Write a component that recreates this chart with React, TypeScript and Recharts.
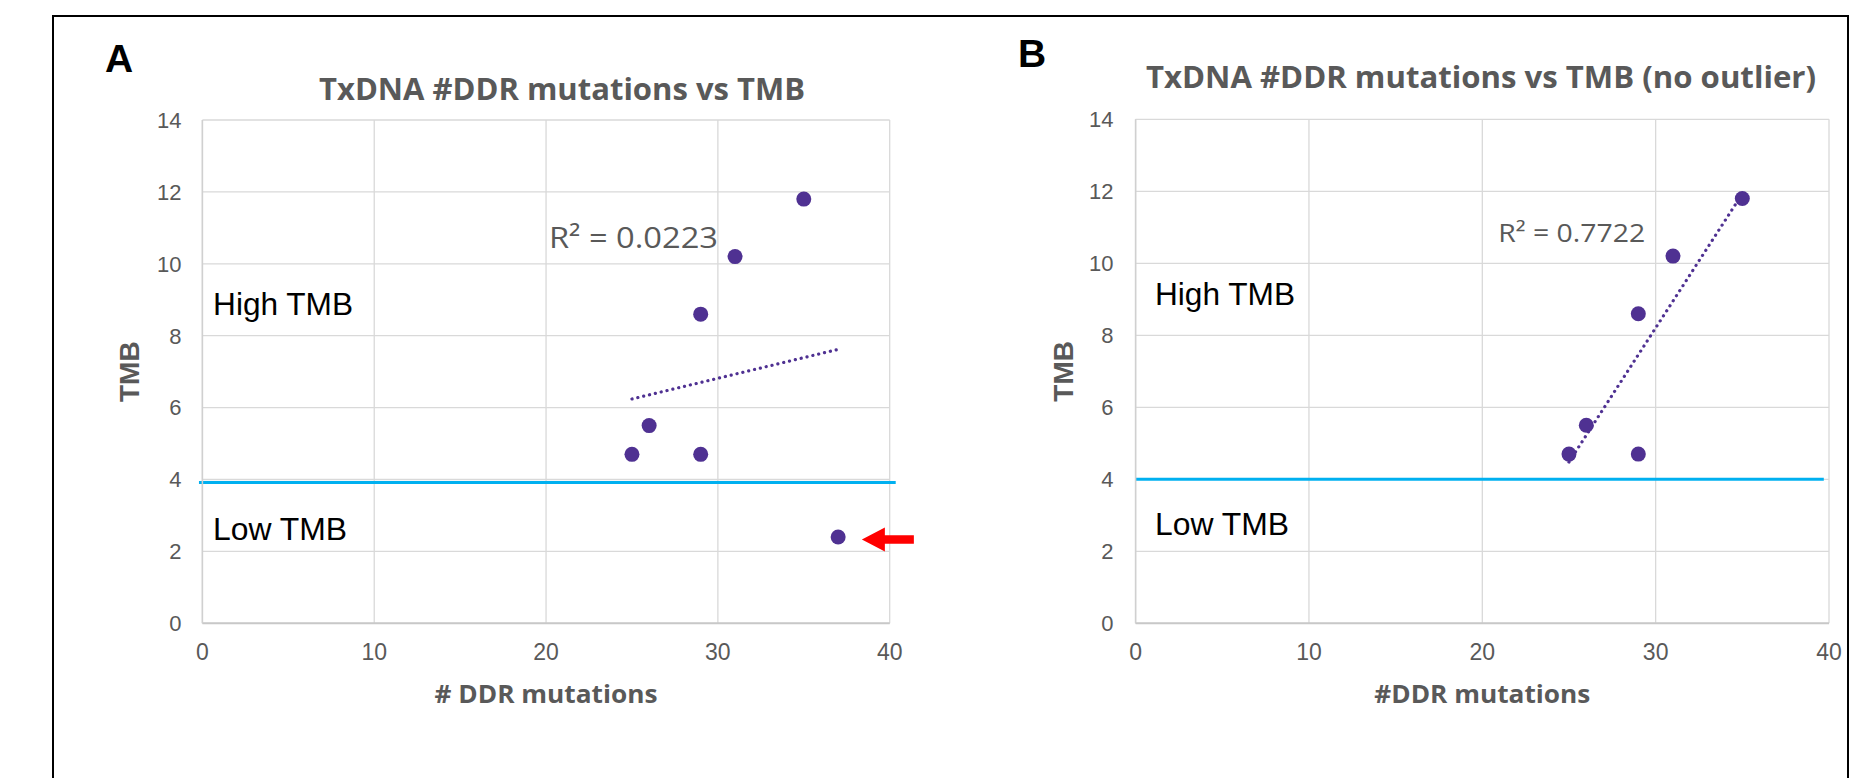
import React from 'react';
import { ScatterChart, Scatter, XAxis, YAxis, CartesianGrid, ReferenceLine, ReferenceDot } from 'recharts';

// axis ticks
const xTicks = [0, 10, 20, 30, 40];
const yTicks = [0, 2, 4, 6, 8, 10, 12, 14];

// panel A: all patients
const ddrA = [25, 26, 29, 29, 31, 35, 37];
const tmbA = [4.7, 5.5, 4.7, 8.6, 10.2, 11.8, 2.4];
const trendXA = [25, 37];
const trendYA = [6.24, 7.62];
const cutXA = [-0.2, 40.35];
const cutYA = 3.92;
const r2A = 'R² = 0.0223';

// panel B: outlier removed
const ddrB = [25, 26, 29, 29, 31, 35];
const tmbB = [4.7, 5.5, 4.7, 8.6, 10.2, 11.8];
const trendXB = [25, 35];
const trendYB = [4.48, 11.93];
const cutXB = [0, 39.7];
const cutYB = 4;
const r2B = 'R² = 0.7722';

const purple = '#4f3192';
const cyan = '#00b0f0';
const gray = '#595959';
const arial = '"Liberation Sans", Arial, sans-serif';
const calib = '"Open Sans", Lato, sans-serif';

const Dot = (p: any) => <circle cx={p.cx} cy={p.cy} r={7.5} fill={purple} />;

const textMark = (txt: string, size: number, len: number, color: string, family: string) => (p: any) => (
  <text x={p.cx} y={p.cy} fontSize={size} fill={color} fontFamily={family} textLength={len} lengthAdjust="spacingAndGlyphs">
    {txt}
  </text>
);

const Arrow = (p: any) => {
  const { cx, cy } = p;
  const pts = [
    [0, 0], [23, -12], [23, -4.2], [52, -4.2], [52, 4.2], [23, 4.2], [23, 12],
  ].map(([dx, dy]) => `${cx + dx},${cy + dy}`).join(' ');
  return <polygon points={pts} fill="#ff0000" />;
};

// tick text: x labels sit ~20px under the axis, y labels centred on their gridline
const XTick = (p: any) => (
  <text x={p.x} y={p.y} dy={26.7} textAnchor="middle" fontSize={23} fill={gray} fontFamily={arial}>
    {p.payload.value}
  </text>
);

const YTick = (p: any) => (
  <text x={p.x} y={p.y} dy={7.8} textAnchor="end" fontSize={22} fill={gray} fontFamily={arial}>
    {p.payload.value}
  </text>
);

const YTitle = (props: any) => {
  const vb = props.viewBox;
  const x = vb.x + vb.width - props.off;
  const y = vb.y + vb.height / 2;
  return (
    <text x={x} y={y} transform={`rotate(-90 ${x} ${y})`} textAnchor="middle" dominantBaseline="central"
      fontSize={28} fontWeight="bold" fill={gray} fontFamily={arial}>
      {props.text}
    </text>
  );
};

const XTitle = (props: any) => {
  const vb = props.viewBox;
  return (
    <text x={vb.x + vb.width / 2} y={vb.y + 80} textAnchor="middle" fontSize={25} fontWeight="bold" fill={gray}
      fontFamily={calib} textLength={props.len} lengthAdjust="spacingAndGlyphs">
      {props.text}
    </text>
  );
};

interface PanelProps {
  xs: number[];
  ys: number[];
  trendX: number[];
  trendY: number[];
  cutX: number[];
  cutY: number;
  r2: string;
  r2Pos: number[];
  r2Size: number;
  r2Len: number;
  highPos: number[];
  lowPos: number[];
  xTitle: string;
  xTitleLen: number;
  yAxisWidth: number;
  yTitleOff: number;
  width: number;
  margin: any;
  tickGap: number;
  arrow?: number[];
}

function Panel(p: PanelProps) {
  const pts = p.xs.map((x, i) => ({ x, y: p.ys[i] }));
  return (
    <ScatterChart width={p.width} height={778} margin={p.margin}>
      <CartesianGrid stroke="#d9d9d9" strokeWidth={1.3} />
      <XAxis type="number" dataKey="x" domain={[0, 40]} ticks={xTicks} height={100} tickLine={false}
        axisLine={{ stroke: '#c8c8c8', strokeWidth: 2 }} tickMargin={4} tick={<XTick />}
        label={<XTitle text={p.xTitle} len={p.xTitleLen} />} />
      <YAxis type="number" dataKey="y" domain={[0, 14]} ticks={yTicks} width={p.yAxisWidth} tickLine={false}
        axisLine={{ stroke: '#d0d0d0', strokeWidth: 1.5 }} tickMargin={p.tickGap} tick={<YTick />}
        label={<YTitle text="TMB" off={p.yTitleOff} />} />
      <ReferenceLine segment={[{ x: p.cutX[0], y: p.cutY }, { x: p.cutX[1], y: p.cutY }]} stroke={cyan}
        strokeWidth={3} ifOverflow="visible" />
      <ReferenceLine segment={[{ x: p.trendX[0], y: p.trendY[0] }, { x: p.trendX[1], y: p.trendY[1] }]}
        stroke={purple} strokeWidth={3.2} strokeDasharray="0.1 5.9" strokeLinecap="round" />
      <Scatter data={pts} shape={Dot} isAnimationActive={false} />
      <ReferenceDot x={p.r2Pos[0]} y={p.r2Pos[1]} shape={textMark(p.r2, p.r2Size, p.r2Len, gray, calib)} />
      <ReferenceDot x={p.highPos[0]} y={p.highPos[1]} shape={textMark('High TMB', 32, 140, '#000', arial)} />
      <ReferenceDot x={p.lowPos[0]} y={p.lowPos[1]} shape={textMark('Low TMB', 32, 134, '#000', arial)} />
      {p.arrow && <ReferenceDot x={p.arrow[0]} y={p.arrow[1]} shape={Arrow} />}
    </ScatterChart>
  );
}

export default function App() {
  return (
    <div style={{ position: 'fixed', left: 0, top: 0, width: 1850, height: 778, overflow: 'hidden', background: '#fff' }}>
      <div style={{ position: 'absolute', left: 52, top: 15, width: 1797, height: 900, border: '2.5px solid #000', boxSizing: 'border-box' }} />
      <svg width={1850} height={778} style={{ position: 'absolute', left: 0, top: 0 }}>
        <text x={105} y={72} fontSize={39} fontWeight="bold" fontFamily={arial} fill="#000">A</text>
        <text x={1018} y={67} fontSize={39} fontWeight="bold" fontFamily={arial} fill="#000">B</text>
        <text x={319} y={100} fontSize={31} fontWeight="bold" fontFamily={calib} fill={gray} textLength={486} lengthAdjust="spacingAndGlyphs">
          TxDNA #DDR mutations vs TMB
        </text>
        <text x={1146} y={88} fontSize={31} fontWeight="bold" fontFamily={calib} fill={gray} textLength={670} lengthAdjust="spacingAndGlyphs">
          TxDNA #DDR mutations vs TMB (no outlier)
        </text>
      </svg>
      <div style={{ position: 'absolute', left: 0, top: 0 }}>
        <Panel xs={ddrA} ys={tmbA} trendX={trendXA} trendY={trendYA} cutX={cutXA} cutY={cutYA}
          r2={r2A} r2Pos={[20.17, 10.43]} r2Size={30} r2Len={169}
          highPos={[0.62, 8.58]} lowPos={[0.62, 2.32]} xTitle="# DDR mutations" xTitleLen={223}
          yAxisWidth={202.4} yTitleOff={73} width={920} tickGap={15}
          margin={{ top: 120, right: 30.3, bottom: 54.7, left: 0 }} arrow={[38.38, 2.33]} />
      </div>
      <div style={{ position: 'absolute', left: 925, top: 0 }}>
        <Panel xs={ddrB} ys={tmbB} trendX={trendXB} trendY={trendYB} cutX={cutXB} cutY={cutYB}
          r2={r2B} r2Pos={[20.92, 10.6]} r2Size={25} r2Len={147}
          highPos={[1.12, 8.83]} lowPos={[1.12, 2.46]} xTitle="#DDR mutations" xTitleLen={216}
          yAxisWidth={210.6} yTitleOff={72} width={925} tickGap={16}
          margin={{ top: 119.3, right: 21, bottom: 54.7, left: 0 }} />
      </div>
    </div>
  );
}
